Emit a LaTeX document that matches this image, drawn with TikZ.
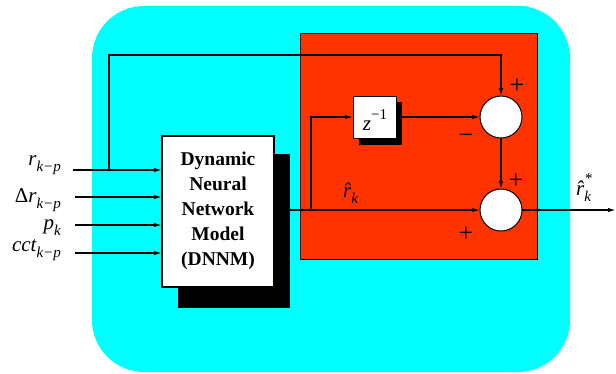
\documentclass[tikz,border=0pt]{standalone}
\usepackage{fontspec}
\setmainfont{Liberation Serif}
\usetikzlibrary{arrows.meta}
\definecolor{cyanbg}{RGB}{0,255,255}
\definecolor{redbg}{RGB}{255,51,0}
\newcommand\mysub[1]{\raisebox{-0.33em}{\fontsize{15}{16}\selectfont\itshape #1}}
\newcommand\mysup[1]{\raisebox{0.55em}{\fontsize{15}{16}\selectfont #1}}
\begin{document}
\begin{tikzpicture}[x=1pt,y=-1pt,
  line/.style={line width=1.4pt},
  arr/.style={line width=1.4pt,-{Latex[length=8pt,width=4.5pt]}},
  lbl/.style={font=\fontsize{21}{22}\selectfont\itshape,inner sep=0pt},
  sgn/.style={font=\fontsize{26}{26}\selectfont,inner sep=0pt}]
\useasboundingbox (0,0) rectangle (616,373);
% backgrounds
\fill[cyanbg,rounded corners=52pt] (92,6) rectangle (570,372);
\draw[fill=redbg,line width=1pt] (300,33) rectangle (537,259);
% DNNM block with shadow
\fill[black] (178,154) rectangle (290,308);
\draw[fill=white,line width=1.4pt] (162,136) rectangle (274,287);
\node[font=\bfseries\fontsize{19.5}{25}\selectfont,align=center,inner sep=0pt] (dnnm) at (218,211) {Dynamic\\Neural\\Network\\Model\\(DNNM)};
% z^-1 block
\fill[black] (359,102) rectangle (402,145);
\draw[fill=white,line width=1pt] (353,96) rectangle (396,138);
\node[font=\fontsize{21}{22}\selectfont,inner sep=0pt] (z) at (375,120) {\textit{z}\mysup{−1}};
% summing junctions
\draw[fill=white,line width=1pt] (501,117) circle (21) node (s1) {};
\draw[fill=white,line width=1pt] (501,210) circle (21) node (s2) {};
% coordinates
\coordinate (in1) at (73,170);
\coordinate (in2) at (75,197);
\coordinate (in3) at (75,225);
\coordinate (in4) at (75,253);
\coordinate (b1) at (162,170);
\coordinate (b2) at (162,197);
\coordinate (b3) at (162,225);
\coordinate (b4) at (162,253);
\coordinate (tap) at (109,170);
\coordinate (dout) at (274,210);
\coordinate (fb) at (311,210);
\coordinate (out) at (616,210);
% input labels
\node[lbl,anchor=base east] (l1) at (61,165) {r\mysub{k−p}};
\node[lbl,anchor=base east] (l2) at (61,202) {\upshape Δ\itshape r\mysub{k−p}};
\node[lbl,anchor=base east] (l3) at (61,229) {p\mysub{k}};
\node[lbl,anchor=base east] (l4) at (61,251) {cct\mysub{k−p}};
% input arrows
\draw[arr] (in1) -- (b1);
\draw[arr] (in2) -- (b2);
\draw[arr] (in3) -- (b3);
\draw[arr] (in4) -- (b4);
% top feed
\draw[arr] (tap) -- (109,55) -| (501,96);
% main path
\draw[arr] (dout) -- (480,210);
\draw[arr] (fb) |- (353,117);
\draw[arr] (396,117) -- (480,117);
\draw[arr] (501,138) -- (501,189);
\draw[arr] (522,210) -- (out);
% signs
\node[sgn] (p1) at (517,86) {+};
\node[sgn] (m1) at (466,139) {−};
\node[sgn] (p2) at (516,181) {+};
\node[sgn] (p3) at (466,234) {+};
% estimates
\node[lbl,anchor=base west] (rk) at (343,197) {\^{r}\mysub{k}};
\node[lbl,anchor=base west] (rks) at (576,195) {\^{r}\rlap{\mysup{*}}\mysub{k}};
\end{tikzpicture}
\end{document}
